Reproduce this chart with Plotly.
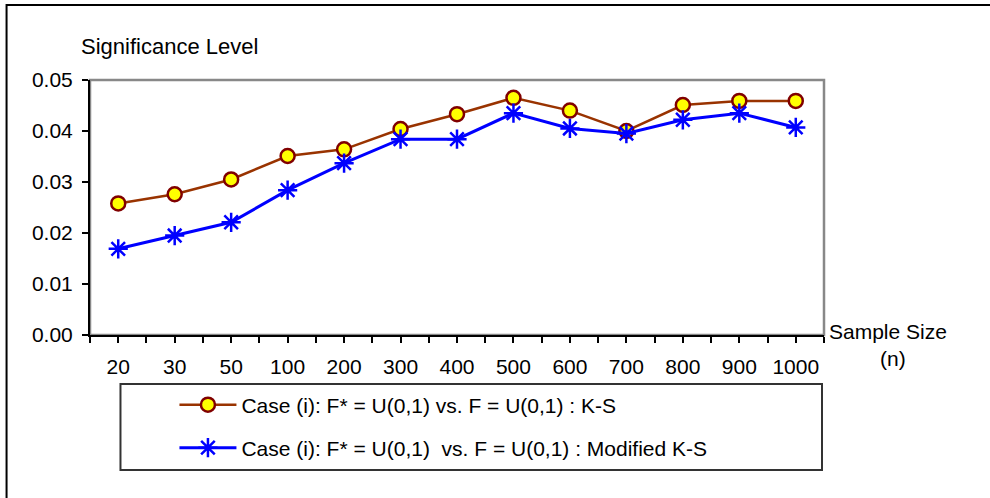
import plotly.graph_objects as go

categories = ["20", "30", "50", "100", "200", "300", "400", "500", "600", "700", "800", "900", "1000"]
ks_values = [0.0258, 0.0276, 0.0305, 0.0351, 0.0364, 0.0404, 0.0433, 0.0465, 0.0440, 0.0400, 0.0451, 0.0459, 0.0459]
mod_ks_values = [0.0169, 0.0195, 0.0221, 0.0284, 0.0337, 0.0384, 0.0384, 0.0435, 0.0405, 0.0395, 0.0422, 0.0435, 0.0407]
series_names = ["Case (i): F* = U(0,1) vs. F = U(0,1) : K-S",
                "Case (i): F* = U(0,1)\u00a0 vs. F = U(0,1) : Modified K-S"]
y_ticks = [0.00, 0.01, 0.02, 0.03, 0.04, 0.05]

W, H = 990, 498
# plot area in page pixels
L, R, T, B = 89.5, 824, 80, 335

def px(x):
    return (x - L) / (R - L)

def py(y):
    return (B - y) / (B - T)

idx = list(range(len(categories)))
font = "Liberation Sans, Arial, sans-serif"
FS = 21

fig = go.Figure()
fig.add_trace(go.Scatter(
    x=idx, y=ks_values, mode="lines+markers", name=series_names[0],
    line=dict(color="#993300", width=2.5),
    marker=dict(symbol="circle", size=14, color="#FFFF00", line=dict(color="#800000", width=2.5)),
    legend="legend",
))
fig.add_trace(go.Scatter(
    x=idx, y=mod_ks_values, mode="lines+markers", name=series_names[1],
    line=dict(color="#0000FF", width=3),
    marker=dict(symbol="asterisk-open", size=16, color="#0000FF", line=dict(color="#0000FF", width=2.5)),
    legend="legend2",
))

shapes = [
    dict(type="rect", xref="paper", yref="paper", x0=0, x1=1, y0=0, y1=1,
         line=dict(color="#888888", width=2.5), layer="below"),
    dict(type="rect", xref="paper", yref="paper", x0=px(6), x1=px(1005), y0=py(5), y1=py(520),
         line=dict(color="black", width=2), layer="below"),
    dict(type="rect", xref="paper", yref="paper", x0=px(120), x1=px(822), y0=py(384), y1=py(470),
         line=dict(color="#333333", width=2), layer="below"),
]

annotations = [
    dict(text="Significance Level", xref="paper", yref="paper", x=px(78), y=py(46),
         xanchor="left", yanchor="middle", showarrow=False, font=dict(size=22, color="black", family=font)),
    dict(text="Sample Size", xref="paper", yref="paper", x=px(827), y=py(331),
         xanchor="left", yanchor="middle", showarrow=False, font=dict(size=FS, color="black", family=font)),
    dict(text="(n)", xref="paper", yref="paper", x=px(893), y=py(358),
         xanchor="center", yanchor="middle", showarrow=False, font=dict(size=FS, color="black", family=font)),
]

legend_common = dict(xanchor="left", yanchor="middle", bgcolor="rgba(0,0,0,0)", borderwidth=0,
                     itemwidth=57, font=dict(size=FS, family=font, color="black"))

fig.update_layout(
    width=W, height=H,
    margin=dict(l=L, r=W - R, t=T, b=H - B, pad=0),
    paper_bgcolor="white", plot_bgcolor="white",
    font=dict(family=font, size=FS, color="black"),
    showlegend=True,
    legend=dict(x=px(174), y=py(405), **legend_common),
    legend2=dict(x=px(174), y=py(448), **legend_common),
    shapes=shapes,
    annotations=annotations,
    xaxis=dict(
        range=[-0.5, len(categories) - 0.5],
        tickmode="array", tickvals=idx, ticktext=categories,
        ticks="outside", ticklen=6, tickwidth=1.5, tickcolor="black",
        minor=dict(tickmode="array", tickvals=[i - 0.5 for i in range(len(categories) + 1)],
                   ticks="outside", ticklen=6, tickwidth=1.5, tickcolor="black", showgrid=False),
        showline=True, linecolor="black", linewidth=2,
        showgrid=False, zeroline=False, ticklabelstandoff=6,
        tickfont=dict(size=FS, family=font, color="black"),
        fixedrange=True,
    ),
    yaxis=dict(
        range=[0, 0.05], tickmode="array", tickvals=y_ticks, tickformat=".2f",
        ticks="outside", ticklen=6, tickwidth=1.5, tickcolor="black",
        showline=True, linecolor="black", linewidth=2,
        showgrid=False, zeroline=False, ticklabelstandoff=5,
        tickfont=dict(size=FS, family=font, color="black"),
        fixedrange=True,
    ),
)

fig.write_html("out.html", config={"displayModeBar": False},
               post_script="document.body.style.margin='0px';")
